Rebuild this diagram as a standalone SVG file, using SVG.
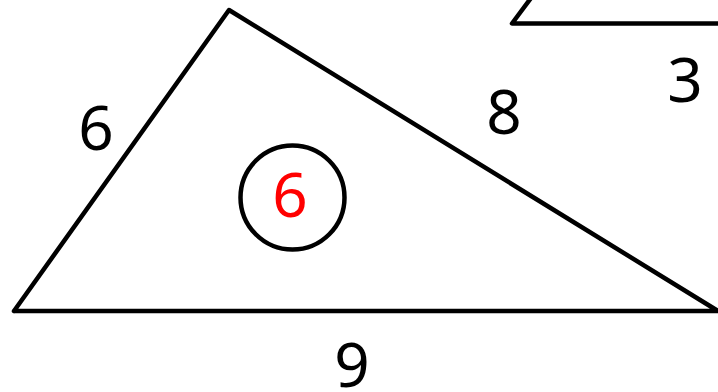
<svg xmlns="http://www.w3.org/2000/svg" width="718" height="392" viewBox="0 0 718 392">
<style>
.ln{fill:none;stroke:#000;stroke-width:4.5;stroke-linejoin:round;stroke-linecap:round}
.lb{font-family:"Noto Sans","Open Sans",sans-serif;font-size:62px;fill:#000;text-anchor:middle}
</style>
<rect width="718" height="392" fill="#fff"/>
<g id="connectors">
<polyline class="ln" points="14,311 229,10 718,311 14,311"/>
<polyline class="ln" points="531,-2 512,23.5 720,23.5"/>
</g>
<g id="circle"><circle class="ln" cx="292.5" cy="197.5" r="52"/><text class="lb" x="290" y="217" style="fill:#f00">6</text></g>
<g id="labels">
<text class="lb" x="96" y="150">6</text>
<text class="lb" x="504" y="134">8</text>
<text class="lb" x="685" y="102">3</text>
<text class="lb" x="352" y="387">9</text>
</g>
</svg>
